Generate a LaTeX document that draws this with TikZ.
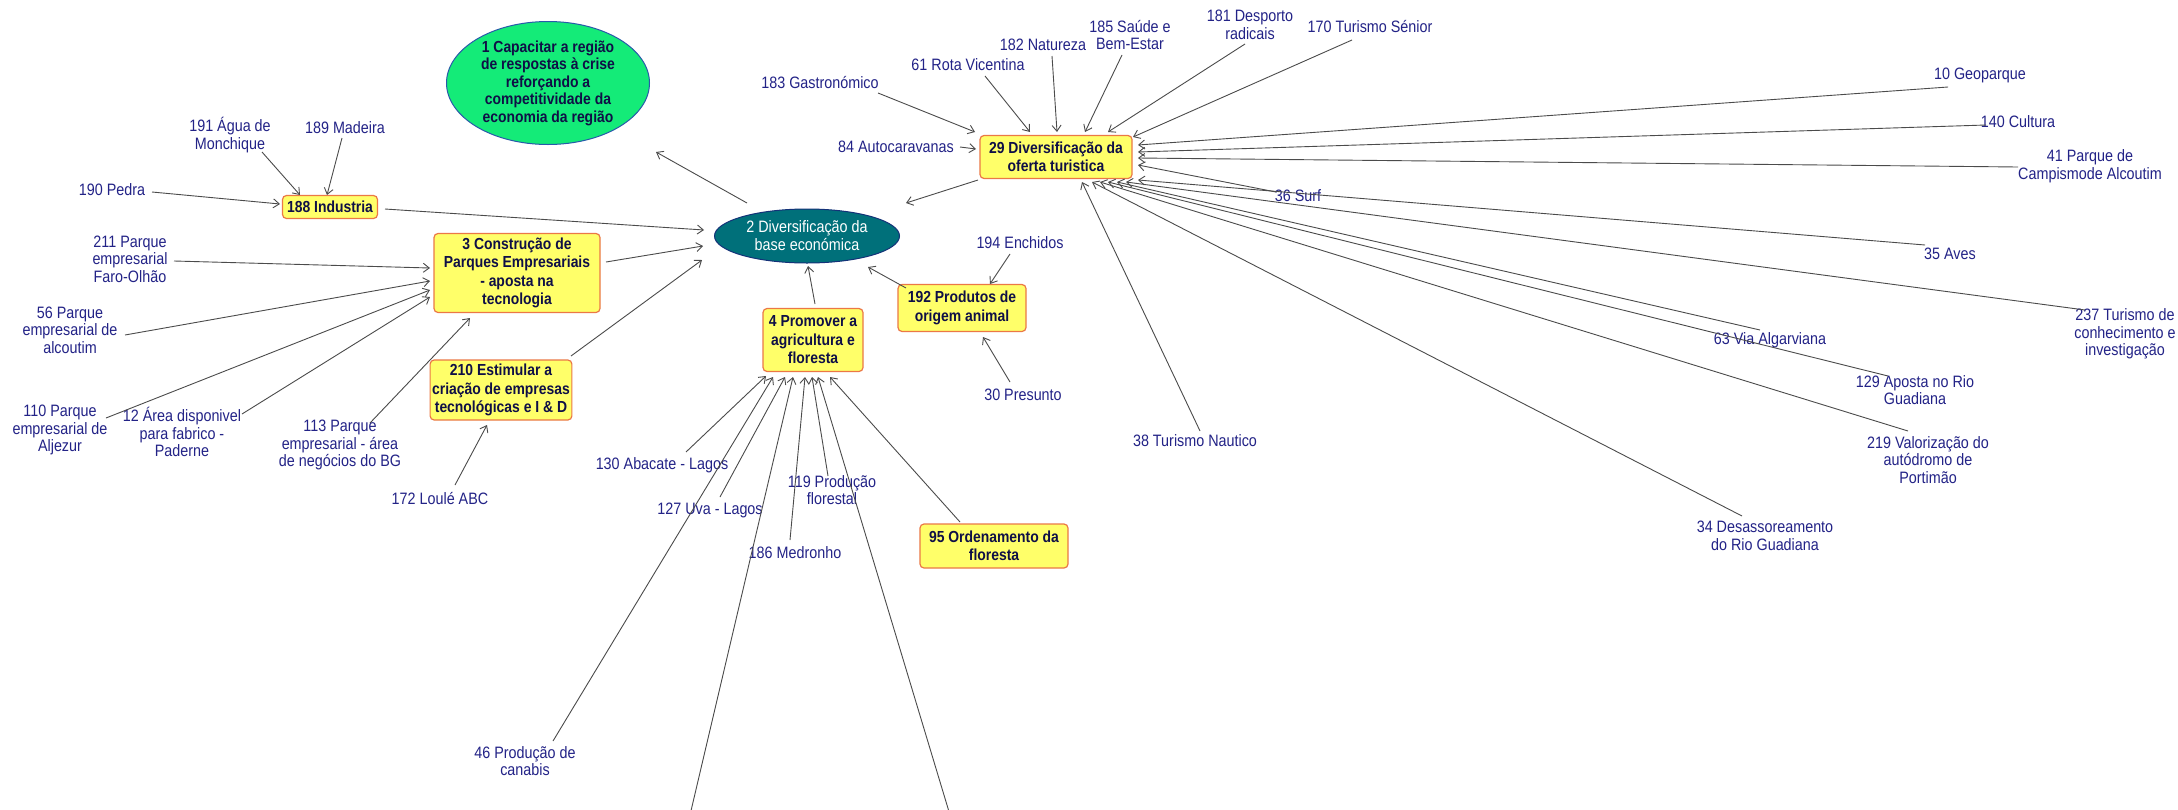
\documentclass[tikz,border=0pt]{standalone}
\usepackage{fontspec}
\setmainfont{Liberation Sans}[FakeStretch=0.87]
\usetikzlibrary{arrows.meta,shapes.geometric,calc}
\definecolor{lblue}{RGB}{35,35,135}
\definecolor{btext}{RGB}{15,15,70}
\definecolor{byellow}{RGB}{255,255,105}
\definecolor{bedge}{RGB}{235,120,70}
\definecolor{agray}{RGB}{75,75,75}
\definecolor{egreen}{RGB}{20,235,120}
\definecolor{eblue}{RGB}{40,90,170}
\definecolor{eteal}{RGB}{0,112,122}
\definecolor{etealedge}{RGB}{20,50,120}
\begin{document}
\begin{tikzpicture}[x=1pt,y=-1pt,
  lbl/.style={text=lblue,align=center,font=\fontsize{16.5}{17.5}\selectfont,inner sep=1pt},
  ybox/.style={rectangle,rounded corners=4pt,fill=byellow,draw=bedge,line width=1.2pt,text=btext,align=center,font=\fontsize{16}{18.5}\selectfont\bfseries,inner sep=2pt},
  arr/.style={draw=agray,line width=0.9pt,-{Straight Barb[length=6pt,width=9pt]}}]
\fill[white] (0,0) rectangle (2178,809);
\useasboundingbox (0,0) rectangle (2178,809);

% main ellipses
\node[ellipse,fill=egreen,draw=eblue,line width=1pt,minimum width=203pt,minimum height=123pt,text=btext,align=center,inner sep=0pt,font=\fontsize{16}{17.5}\selectfont\bfseries] (n1) at (548,83) {1 Capacitar a região\\de respostas à crise\\reforçando a\\competitividade da\\economia da região};
\node[ellipse,fill=eteal,draw=etealedge,line width=1pt,minimum width=185pt,minimum height=54pt,text=white,align=center,inner sep=0pt,font=\fontsize{16.5}{18}\selectfont] (n2) at (807,236) {2 Diversificação da\\base económica};

% yellow boxes
\node[ybox,minimum width=95pt,minimum height=23pt] (b188) at (330,207) {188 Industria};
\node[ybox,minimum width=166pt,minimum height=79pt] (b3) at (517,273) {3 Construção de\\Parques Empresariais\\- aposta na\\tecnologia};
\node[ybox,minimum width=132pt,minimum height=60pt] (b210) at (501,390) {210 Estimular a\\criação de empresas\\tecnológicas e I \& D};
\node[ybox,minimum width=100pt,minimum height=63pt] (b4) at (813,340) {4 Promover a\\agricultura e\\floresta};
\node[ybox,minimum width=128pt,minimum height=47pt] (b192) at (962,308) {192 Produtos de\\origem animal};
\node[ybox,minimum width=148pt,minimum height=44pt] (b95) at (994,546) {95 Ordenamento da\\floresta};
\node[ybox,minimum width=152pt,minimum height=43pt] (b29) at (1056,157) {29 Diversificação da\\oferta turistica};

% labels
\node[lbl] (l191) at (230,135) {191 Água de\\Monchique};
\node[lbl] (l189) at (345,128) {189 Madeira};
\node[lbl] (l190) at (112,190) {190 Pedra};
\node[lbl] (l211) at (130,259) {211 Parque\\empresarial\\Faro-Olhão};
\node[lbl] (l56) at (70,330) {56 Parque\\empresarial de\\alcoutim};
\node[lbl] (l110) at (60,430) {110 Parque\\empresarial de\\Aljezur};
\node[lbl] (l12) at (182,432) {12 Área disponivel\\para fabrico -\\Paderne};
\node[lbl] (l113) at (340,445) {113 Parque\\empresarial - área\\de negócios do BG};
\node[lbl] (l172) at (440,498) {172 Loulé ABC};
\node[lbl] (l130) at (662,465) {130 Abacate - Lagos};
\node[lbl] (l127) at (710,510) {127 Uva - Lagos};
\node[lbl] (l46) at (525,761) {46 Produção de\\canabis};
\node[lbl] (l186) at (795,553) {186 Medronho};
\node[lbl] (l119) at (832,490) {119 Produção\\florestal};
\node[lbl] (l194) at (1020,243) {194 Enchidos};
\node[lbl] (l30) at (1023,395) {30 Presunto};
\node[lbl] (l183) at (820,83) {183 Gastronómico};
\node[lbl] (l84) at (896,147) {84 Autocaravanas};
\node[lbl] (l61) at (968,65) {61 Rota Vicentina};
\node[lbl] (l182) at (1043,45) {182 Natureza};
\node[lbl] (l185) at (1130,35) {185 Saúde e\\Bem-Estar};
\node[lbl] (l181) at (1250,25) {181 Desporto\\radicais};
\node[lbl] (l170) at (1370,27) {170 Turismo Sénior};
\node[lbl] (l10) at (1980,75) {10 Geoparque};
\node[lbl] (l140) at (2018,122) {140 Cultura};
\node[lbl] (l41) at (2090,166) {41 Parque de\\Campismode Alcoutim};
\node[lbl] (l36) at (1298,196) {36 Surf};
\node[lbl] (l35) at (1950,254) {35 Aves};
\node[lbl] (l237) at (2125,334) {237 Turismo de\\conhecimento e\\investigação};
\node[lbl] (l63) at (1770,340) {63 Via Algarviana};
\node[lbl] (l129) at (1915,390) {129 Aposta no Rio\\Guadiana};
\node[lbl] (l219) at (1928,460) {219 Valorização do\\autódromo de\\Portimão};
\node[lbl] (l38) at (1195,441) {38 Turismo Nautico};
\node[lbl] (l34) at (1765,536) {34 Desassoreamento\\do Rio Guadiana};

\coordinate (c1) at (690,815);
\coordinate (c2) at (950,815);

% connectors
\draw[arr] ($(l191)+(32,17)$) -- ($(b188)+(-30,-12)$);
\draw[arr] ($(l189)+(-3,10)$) -- ($(b188)+(-3,-12)$);
\draw[arr] ($(l190)+(40,2)$) -- ($(b188)+(-50,-3)$);
\draw[arr] ($(b188)+(55,2)$) -- ($(n2)+(-103,-6)$);
\draw[arr] ($(b3)+(89,-11)$) -- ($(n2)+(-104,10)$);
\draw[arr] ($(b210)+(70,-34)$) -- ($(n2)+(-105,24)$);
\draw[arr] ($(b4)+(2,-36)$) -- ($(n2)+(1,30)$);
\draw[arr] ($(b192)+(-56,-20)$) -- ($(n2)+(61,31)$);
\draw[arr] ($(b29)+(-78,23)$) -- ($(n2)+(99,-33)$);
\draw[arr] ($(n2)+(-60,-33)$) -- ($(n1)+(108,69)$);
\draw[arr] ($(l211)+(44,2)$) -- ($(b3)+(-87,-5)$);
\draw[arr] ($(l56)+(55,5)$) -- ($(b3)+(-87,8)$);
\draw[arr] ($(l110)+(46,-12)$) -- ($(b3)+(-87,17)$);
\draw[arr] ($(l12)+(60,-18)$) -- ($(b3)+(-87,24)$);
\draw[arr] ($(l113)+(30,-22)$) -- ($(b3)+(-47,45)$);
\draw[arr] ($(l172)+(15,-13)$) -- ($(b210)+(-14,35)$);
\draw[arr] ($(l130)+(24,-13)$) -- ($(b4)+(-47,36)$);
\draw[arr] ($(l46)+(28,-20)$) -- ($(b4)+(-40,37)$);
\draw[arr] ($(l127)+(10,-13)$) -- ($(b4)+(-28,37)$);
\draw[arr] (c1) -- ($(b4)+(-20,37)$);
\draw[arr] ($(l186)+(-5,-13)$) -- ($(b4)+(-8,37)$);
\draw[arr] ($(l119)+(-4,-14)$) -- ($(b4)+(-1,37)$);
\draw[arr] (c2) -- ($(b4)+(5,37)$);
\draw[arr] ($(b95)+(-34,-24)$) -- ($(b4)+(17,37)$);
\draw[arr] ($(l194)+(-10,11)$) -- ($(b192)+(28,-24)$);
\draw[arr] ($(l30)+(-13,-13)$) -- ($(b192)+(21,29)$);
\draw[arr] ($(l183)+(58,10)$) -- ($(b29)+(-81,-25)$);
\draw[arr] ($(l84)+(64,0)$) -- ($(b29)+(-80,-8)$);
\draw[arr] ($(l61)+(17,11)$) -- ($(b29)+(-26,-25)$);
\draw[arr] ($(l182)+(9,11)$) -- ($(b29)+(1,-25)$);
\draw[arr] ($(l185)+(-8,20)$) -- ($(b29)+(29,-25)$);
\draw[arr] ($(l181)+(-5,19)$) -- ($(b29)+(52,-25)$);
\draw[arr] ($(l170)+(-18,13)$) -- ($(b29)+(77,-20)$);
\draw[arr] ($(l10)+(-32,12)$) -- ($(b29)+(82,-12)$);
\draw[arr] ($(l140)+(-32,3)$) -- ($(b29)+(82,-5)$);
\draw[arr] ($(l41)+(-72,1)$) -- ($(b29)+(82,1)$);
\draw[arr] ($(l36)+(-22,-4)$) -- ($(b29)+(82,8)$);
\draw[arr] ($(l35)+(-25,-9)$) -- ($(b29)+(82,23)$);
\draw[arr] ($(l237)+(-40,-24)$) -- ($(b29)+(70,25)$);
\draw[arr] ($(l63)+(-10,-10)$) -- ($(b29)+(61,25)$);
\draw[arr] ($(l129)+(-27,-14)$) -- ($(b29)+(52,25)$);
\draw[arr] ($(l219)+(-20,-29)$) -- ($(b29)+(44,25)$);
\draw[arr] ($(l34)+(-23,-20)$) -- ($(b29)+(36,25)$);
\draw[arr] ($(l38)+(5,-10)$) -- ($(b29)+(26,25)$);
\end{tikzpicture}
\end{document}
